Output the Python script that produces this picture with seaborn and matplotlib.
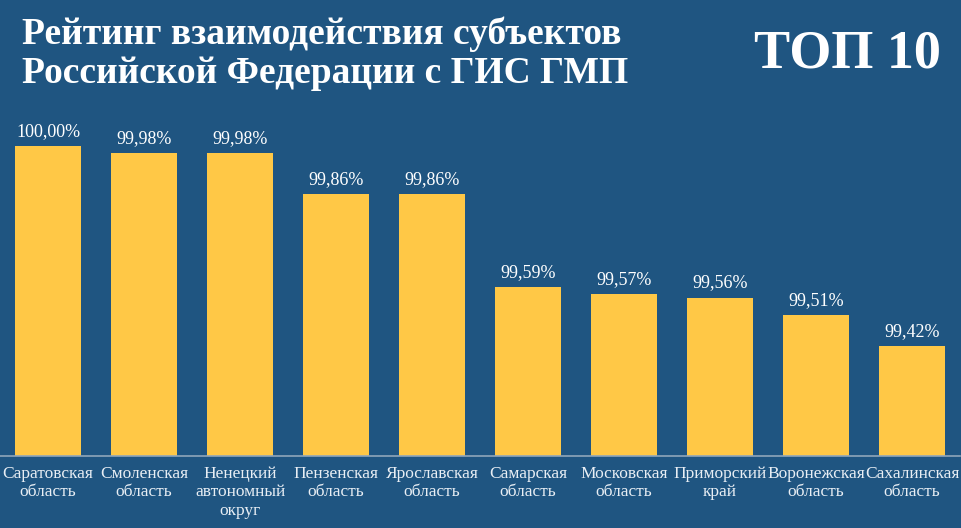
import matplotlib
matplotlib.use("Agg")
import matplotlib.pyplot as plt
import pandas as pd
import seaborn as sns

# --- data ---
regions = [
    "Саратовская\nобласть", "Смоленская\nобласть", "Ненецкий\nавтономный\nокруг",
    "Пензенская\nобласть", "Ярославская\nобласть", "Самарская\nобласть",
    "Московская\nобласть", "Приморский\nкрай", "Воронежская\nобласть",
    "Сахалинская\nобласть",
]
scores = [100.00, 99.98, 99.98, 99.86, 99.86, 99.59, 99.57, 99.56, 99.51, 99.42]

BG = "#1F5581"
BAR = "#FFC846"
AXIS = "#8FA6BA"

sns.set_theme(style="white")
plt.rcParams["font.family"] = ["Liberation Serif", "DejaVu Serif"]

df = pd.DataFrame({"region": regions, "score": scores})

fig = plt.figure(figsize=(9.61, 5.28), dpi=100, facecolor=BG)
ax = fig.add_axes([0.0, 1 - 456 / 528, 960 / 961, (456 - 110) / 528])
ax.set_facecolor(BG)

sns.barplot(data=df, x="region", y="score", color=BAR, saturation=1,
            width=0.68, linewidth=0, ax=ax)

ymin = 100 - 310 / 344.8
ax.set_ylim(ymin, ymin + 346 / 344.8)
ax.set_xlim(-0.5, len(regions) - 0.5)

for i, v in enumerate(scores):
    ax.text(i, v + 0.018, f"{v:.2f}%".replace(".", ","), ha="center", va="bottom",
            color="white", fontsize=13, clip_on=False)

for s in ["top", "right", "left"]:
    ax.spines[s].set_visible(False)
ax.spines["bottom"].set_color(AXIS)
ax.spines["bottom"].set_linewidth(1.2)
ax.set_yticks([])
ax.set_xlabel("")
ax.set_ylabel("")
ax.tick_params(axis="x", which="major", length=0, pad=7, colors="#E8EEF4",
               labelsize=12.5)
ax.set_xticks([i + 0.5 for i in range(len(regions) - 1)], minor=True)
ax.tick_params(axis="x", which="minor", length=5, color=AXIS, width=1)
for lbl in ax.get_xticklabels():
    lbl.set_linespacing(1.2)

fig.text(22 / 961, 1 - 83 / 528, "Рейтинг взаимодействия субъектов\nРоссийской Федерации с ГИС ГМП",
         color="white", fontsize=27, fontweight="bold", ha="left", va="baseline",
         linespacing=1.13)
fig.text(847 / 961, 1 - 68 / 528, "ТОП 10", color="white", fontsize=39,
         fontweight="bold", ha="center", va="baseline")

fig.savefig("out.png", dpi=100, facecolor=BG)
